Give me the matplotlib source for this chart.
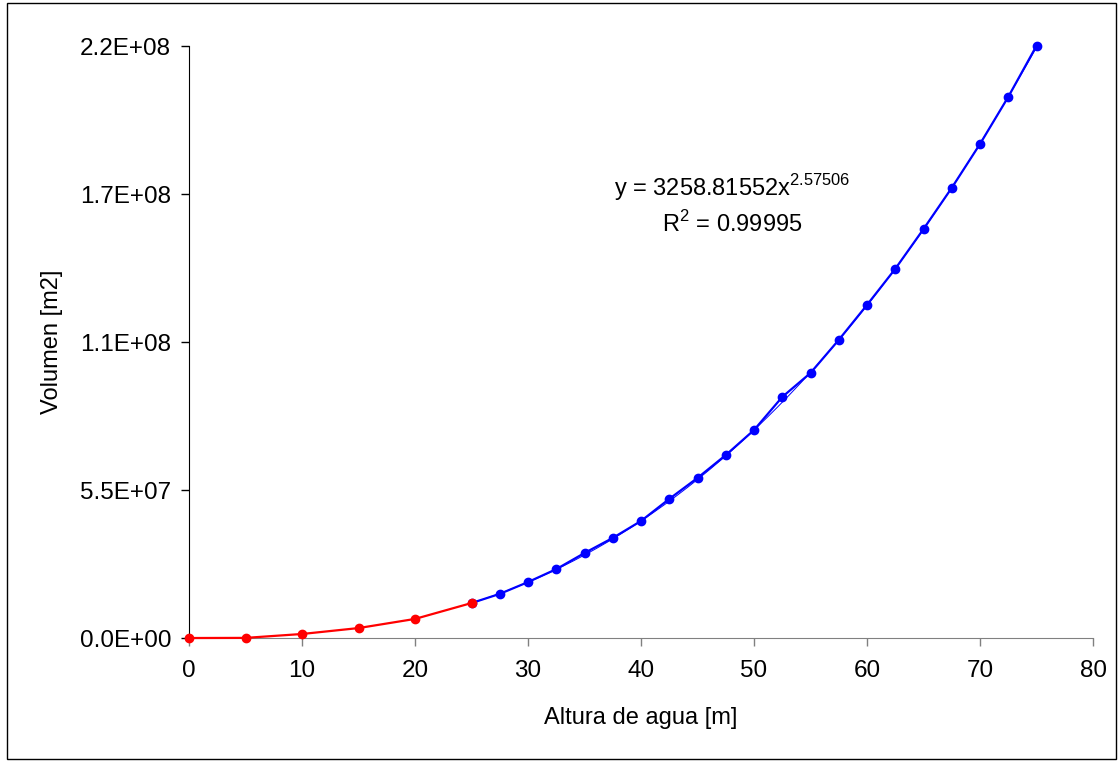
import numpy as np
import matplotlib.pyplot as plt
from matplotlib.patches import Rectangle

plt.rcParams['font.family'] = ['Liberation Sans', 'DejaVu Sans']

# red series: altura (m) vs volumen
red_h = [0, 5, 10, 15, 20, 25]
red_v = [0.0, 0.05e6, 1.5e6, 3.7e6, 7.1e6, 13.0e6]

# blue series
blue_h = [25, 27.5, 30, 32.5, 35, 37.5, 40, 42.5, 45, 47.5, 50,
          52.5, 55, 57.5, 60, 62.5, 65, 67.5, 70, 72.5, 75]
blue_v = [13.0e6, 16.4e6, 20.8e6, 25.6e6, 31.6e6, 37.2e6, 43.5e6, 51.7e6,
          59.5e6, 68.0e6, 77.3e6, 89.6e6, 98.5e6, 110.8e6, 123.8e6, 137.2e6,
          152.0e6, 167.3e6, 183.6e6, 201.1e6, 220.1e6]

# power trendline shown in the chart
TREND_A = 3258.81552
TREND_B = 2.57506
R2 = 0.99995

y_ticks = [0, 55e6, 110e6, 165e6, 220e6]
y_labels = ['0.0E+00', '5.5E+07', '1.1E+08', '1.7E+08', '2.2E+08']
x_ticks = [0, 10, 20, 30, 40, 50, 60, 70, 80]

fig = plt.figure(figsize=(11.2, 7.62), dpi=100)
ax = fig.add_axes([0.1688, 0.1627, 0.8071, 0.7769])

# border around the whole chart
fig.patches.append(Rectangle((0.006, 0.004), 0.99, 0.992, transform=fig.transFigure,
                             fill=False, edgecolor='black', linewidth=1.0))

trend_x = np.linspace(blue_h[0], blue_h[-1], 200)
ax.plot(trend_x, TREND_A * trend_x ** TREND_B, color='#0000ff', linewidth=0.7, zorder=2)
ax.plot(blue_h, blue_v, color='#0000ff', linewidth=1.6, marker='o', markersize=6,
        zorder=3, clip_on=False)
ax.plot(red_h, red_v, color='#ff0000', linewidth=1.6, marker='o', markersize=6,
        zorder=4, clip_on=False)

ax.set_xlim(0, 80)
ax.set_ylim(0, 220e6)
ax.set_xticks(x_ticks)
ax.set_yticks(y_ticks)
ax.set_yticklabels(y_labels)
ax.tick_params(axis='both', labelsize=17.5, direction='out', length=6, width=1)
ax.tick_params(axis='x', colors='#808080', labelcolor='black', pad=10)
ax.tick_params(axis='y', pad=7)
ax.spines['top'].set_visible(False)
ax.spines['right'].set_visible(False)
ax.spines['bottom'].set_color('#808080')

ax.set_xlabel('Altura de agua [m]', fontsize=17, labelpad=18)
ax.set_ylabel('Volumen [m2]', fontsize=17, labelpad=12)

ax.text(48.1, 167.5e6, r'y = 3258.81552x$^{\mathregular{2.57506}}$', fontsize=17,
        ha='center', va='center')
ax.text(48.1, 154e6, r'R$^{\mathregular{2}}$ = ' + f'{R2:.5f}', fontsize=17,
        ha='center', va='center')

fig.savefig('out.png', dpi=100)
